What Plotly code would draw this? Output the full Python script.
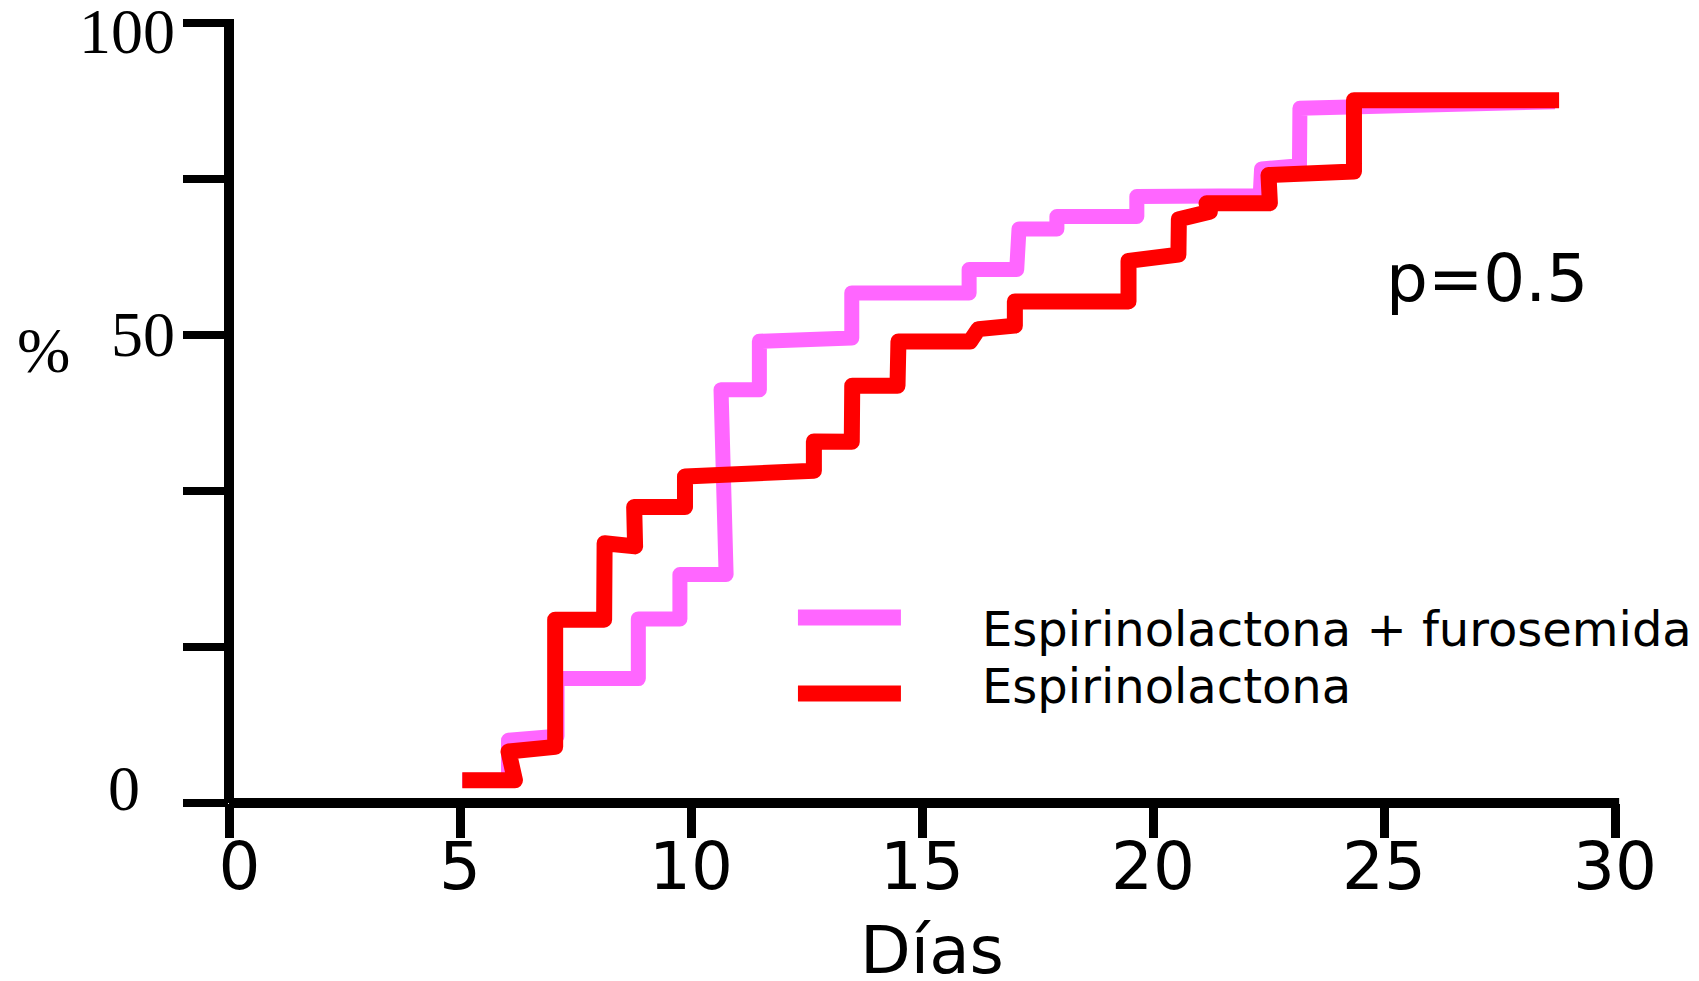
import plotly.graph_objects as go

# ---- data (days, cumulative %) ----
dias_espiro_furo = [5.05, 6.05, 6.05, 7.1, 7.1, 8.86, 8.86, 9.76, 9.76, 10.76, 10.65, 11.48, 11.48,
                    13.48, 13.48, 16.02, 16.02, 17.05, 17.1, 17.92, 17.92, 19.65, 19.65, 22.32,
                    22.35, 23.17, 23.18, 28.7]
pct_espiro_furo = [2.92, 2.92, 8.05, 8.56, 15.95, 15.95, 23.6, 23.6, 29.3, 29.3, 52.98, 52.98, 59.2,
                   59.6, 65.4, 65.4, 68.4, 68.4, 73.6, 73.6, 75.2, 75.2, 77.75, 77.85,
                   81.3, 81.7, 89.07, 89.9]

dias_espiro = [5.05, 6.19, 6.05, 7.06, 7.06, 8.12, 8.13, 8.79, 8.77, 9.87, 9.87, 12.66, 12.66,
               13.48, 13.49, 14.47, 14.49, 16.04, 16.22, 17.01, 17.01, 19.47, 19.47, 20.55,
               20.56, 21.23, 21.16, 22.53, 22.5, 24.35, 24.35, 28.79]
pct_espiro = [2.92, 2.92, 6.6, 7.2, 23.5, 23.5, 33.3, 32.9, 37.95, 37.95, 41.87, 42.6, 46.36,
              46.3, 53.5, 53.5, 59.17, 59.17, 60.75, 61.2, 64.3, 64.3, 69.5, 70.3,
              74.85, 75.8, 76.9, 76.9, 80.5, 80.95, 90.1, 90.1]

series_names = ["Espirinolactona + furosemida", "Espirinolactona"]
series_colors = ["#FF66FF", "#FF0000"]
series_widths = [15, 16]

x_ticks = [0, 5, 10, 15, 20, 25, 30]
x_ticktext = ["\u00a00", "5", "10", "15", "20", "25", "30"]
x_title = "Días"
y_ticks = [0, 20, 40, 60, 80, 100]
# y labels as printed in the picture, with the height at which each one sits
y_label_text = ["100", "50", "0"]
y_label_pos = [98.9, 60.1, 1.9]

p_text = "p=0.5"

SANS = "DejaVu Sans"
SERIF = "Liberation Serif, Times New Roman, serif"

fig = go.Figure()
for xs, ys, nm, col, w in zip([dias_espiro_furo, dias_espiro], [pct_espiro_furo, pct_espiro],
                              series_names, series_colors, series_widths):
    fig.add_trace(go.Scatter(x=xs, y=ys, mode="lines", name=nm,
                             line=dict(color=col, width=w), showlegend=False))

annotations = []
x_shift = [-52, -52, -87]
for t, v, xs in zip(y_label_text, y_label_pos, x_shift):
    annotations.append(dict(text=t, xref="paper", x=0, yref="y", y=v, xanchor="right",
                            yanchor="middle", xshift=xs, showarrow=False,
                            font=dict(family=SERIF, size=64, color="black")))
# y axis title
annotations.append(dict(text="%", xref="paper", x=-0.1338, yref="paper", y=0.58,
                        xanchor="center", yanchor="middle", showarrow=False,
                        font=dict(family=SERIF, size=64, color="black")))
# x axis title
annotations.append(dict(text=x_title, xref="paper", x=0.507, yref="paper", y=-0.137,
                        xanchor="center", yanchor="top", showarrow=False,
                        font=dict(family=SANS, size=66, color="black")))
# p-value
annotations.append(dict(text=p_text, xref="paper", x=0.9076, yref="paper", y=0.672,
                        xanchor="center", yanchor="middle", showarrow=False,
                        font=dict(family=SANS, size=66, color="black")))
# custom legend
leg_text_y = [0.2236, 0.1505]
leg_line_y = [0.2377, 0.1403]
shapes = []
for name, col, ty, ly in zip(series_names, series_colors, leg_text_y, leg_line_y):
    shapes.append(dict(type="line", xref="paper", yref="paper", x0=0.4105, x1=0.4848,
                       y0=ly, y1=ly, line=dict(color=col, width=16)))
    annotations.append(dict(text=name, xref="paper", x=0.5418, yref="paper", y=ty,
                            xanchor="left", yanchor="middle", showarrow=False,
                            font=dict(family=SANS, size=48, color="black")))

# axis lines (paper-referenced so they are not clipped)
shapes.append(dict(type="line", xref="paper", yref="paper", x0=0, x1=1.003, y0=0, y1=0,
                   line=dict(color="black", width=10), layer="above"))
shapes.append(dict(type="line", xref="paper", yref="paper", x0=0, x1=0, y0=0, y1=1.005,
                   line=dict(color="black", width=10), layer="above"))

fig.update_layout(
    width=1699, height=981,
    margin=dict(l=221, r=92, t=15, b=186, autoexpand=False),
    paper_bgcolor="white", plot_bgcolor="white",
    annotations=annotations, shapes=shapes,
    xaxis=dict(range=[0, 30], tickvals=x_ticks, ticktext=x_ticktext,
               showline=False, zeroline=False, showgrid=False,
               ticks="outside", ticklen=34, tickwidth=9, tickcolor="black",
               tickfont=dict(family=SANS, size=66, color="black"),
               ticklabelstandoff=-28),
    yaxis=dict(range=[0, 100], tickvals=y_ticks, showticklabels=False,
               showline=False, zeroline=False, showgrid=False,
               ticks="outside", ticklen=45, tickwidth=8, tickcolor="black"),
)

post = ("document.querySelectorAll('.scatterlayer .js-line').forEach(function(p){"
        "p.style.strokeLinejoin='round';});")
fig.write_html("out.html", post_script=post)
